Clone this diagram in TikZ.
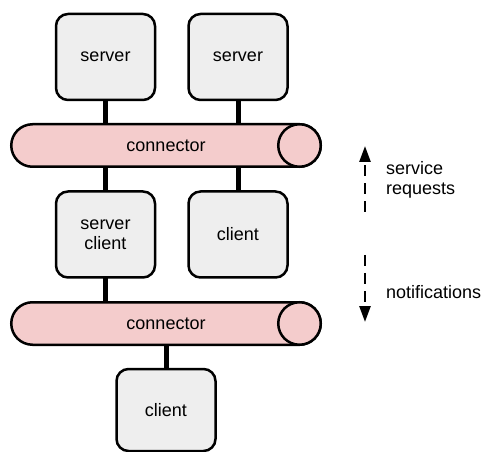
\documentclass[tikz,border=0pt]{standalone}
\usepackage{fontspec}
\setmainfont{Liberation Sans}
\usetikzlibrary{shapes.misc,arrows.meta}
\definecolor{boxgray}{HTML}{EEEEEE}
\definecolor{pipepink}{HTML}{F4CCCC}

\begin{document}
\begin{tikzpicture}[x=1pt,y=-1pt,font=\fontsize{18}{20.5}\selectfont]
  \tikzset{comp style/.style = {draw, line width=2.5pt, fill=boxgray, rounded corners=12pt, minimum width=99pt, minimum height=86pt, align=center, inner sep=0pt, outer sep=0pt},
           pipe style/.style = {draw, line width=2.5pt, fill=pipepink, rounded rectangle, minimum width=309.5pt, minimum height=42.5pt, inner sep=0pt, outer sep=0pt},
           cap style/.style = {draw, line width=2.5pt, fill=pipepink, circle, minimum size=42.5pt, inner sep=0pt, outer sep=0pt},
           link style/.style = {line width=5pt},
           flow style/.style = {line width=2.5pt, dash pattern=on 11pt off 7pt, -{Triangle[length=16pt,width=11pt]}}}
  \useasboundingbox (0,0) rectangle (483,452);
  \node[comp style] (srvL) at (105.5,57) {server};
  \node[comp style] (srvR) at (238,57) {server};
  \node[pipe style] (busA) at (166,145.5) {connector};
  \node[cap style] (capA) at ([xshift=-21.25pt]busA.east) {};
  \node[comp style] (srvcli) at (105.5,234.5) {server\\client};
  \node[comp style] (cliR) at (238,234.5) {client};
  \node[pipe style] (busB) at (166,323.5) {connector};
  \node[cap style] (capB) at ([xshift=-21.25pt]busB.east) {};
  \node[comp style, minimum height=82pt] (cliB) at (166,410) {client};
  % links
  \draw[link style] (srvL.south) -- (srvL.south |- busA.north);
  \draw[link style] (srvR.south) -- (srvR.south |- busA.north);
  \draw[link style] (busA.south -| srvcli) -- (srvcli.north);
  \draw[link style] (busA.south -| cliR) -- (cliR.north);
  \draw[link style] (srvcli.south) -- (srvcli.south |- busB.north);
  \draw[link style] (busB.south) -- (cliB.north);
  % directions
  \coordinate (reqS) at (365,212);
  \coordinate (reqE) at (365,146);
  \coordinate (notS) at (365,255);
  \coordinate (notE) at (365,322);
  \draw[flow style] (reqS) -- (reqE);
  \draw[flow style] (notS) -- (notE);
  \node[anchor=west, align=left, inner sep=0pt] (reqtxt) at (386,180) {service\\requests};
  \node[anchor=west, inner sep=0pt] (nottxt) at (386,292) {notifications};
\end{tikzpicture}
\end{document}
